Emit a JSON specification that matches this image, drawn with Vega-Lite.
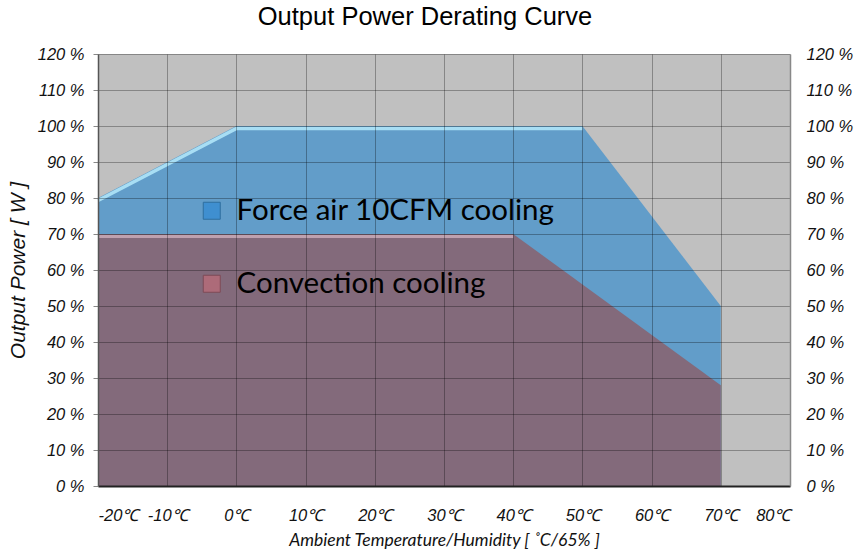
{
  "$schema": "https://vega.github.io/schema/vega-lite/v6.json",
  "width": 692,
  "height": 432,
  "autosize": "none",
  "padding": {"left": 98, "top": 54, "right": 67, "bottom": 68},
  "background": "white",
  "view": {"fill": "#c0c0c0", "stroke": null},
  "title": {
    "text": "Output Power Derating Curve",
    "font": "Liberation Sans",
    "fontSize": 25.5,
    "fontWeight": "normal",
    "color": "#000",
    "anchor": "middle",
    "dx": -19,
    "offset": 16
  },
  "config": {
    "view": {"fill": "#c0c0c0", "stroke": null},
    "axis": {
      "labelFont": "Liberation Sans",
      "labelFontStyle": "italic",
      "labelFontSize": 16.5,
      "labelColor": "#111",
      "titleFont": "Liberation Sans",
      "titleFontStyle": "italic",
      "titleFontWeight": "normal",
      "titleColor": "#111"
    }
  },
  "datasets": {
    "force": [
      {"series": "Force air 10CFM cooling", "t": -20, "p": 80},
      {"series": "Force air 10CFM cooling", "t": 0, "p": 100},
      {"series": "Force air 10CFM cooling", "t": 50, "p": 100},
      {"series": "Force air 10CFM cooling", "t": 70, "p": 50}
    ],
    "conv": [
      {"series": "Convection cooling", "t": -20, "p": 70},
      {"series": "Convection cooling", "t": 40, "p": 70},
      {"series": "Convection cooling", "t": 70, "p": 28}
    ],
    "forceEdge": [
      {"t": -20, "p": 80},
      {"t": 0, "p": 100},
      {"t": 50, "p": 100}
    ],
    "convEdge": [
      {"t": -20, "p": 70},
      {"t": 40, "p": 70}
    ]
  },
  "layer": [
    {
      "data": {"name": "force"},
      "mark": {"type": "area", "interpolate": "linear", "color": "#629dc9"},
      "encoding": {
        "x": {
          "field": "t", "type": "quantitative",
          "scale": {"domain": [-20, 80], "nice": false, "zero": false},
          "axis": {
            "values": [-20, -10, 0, 10, 20, 30, 40, 50, 60, 70, 80],
            "labelExpr": "datum.value + '℃'",
            "title": "Ambient Temperature/Humidity [ ˚C/65% ]",
            "titleFont": "Lato",
            "titleFontSize": 17.5,
            "titlePadding": 8,
            "labelPadding": 21,
            "ticks": false,
            "domainColor": "#222",
            "domainWidth": 2,
            "grid": true,
            "gridColor": "#000",
            "gridOpacity": 0.3,
            "zindex": 1
          }
        },
        "y": {
          "field": "p", "type": "quantitative", "stack": null,
          "scale": {"domain": [0, 120], "nice": false},
          "axis": {
            "values": [0, 10, 20, 30, 40, 50, 60, 70, 80, 90, 100, 110, 120],
            "labelExpr": "datum.value + ' %'",
            "title": "Output Power [ W ]",
            "titleFontSize": 21,
            "titleX": -70,
            "titleY": 216,
            "labelPadding": 9,
            "tickSize": 5,
            "tickColor": "#888",
            "domainColor": "#555",
            "domainWidth": 1.5,
            "grid": true,
            "gridColor": "#000",
            "gridOpacity": 0.3,
            "zindex": 1
          }
        }
      }
    },
    {
      "data": {"name": "forceEdge"},
      "mark": {"type": "line", "color": "#b0e6f8", "strokeWidth": 3.5, "yOffset": 2.5, "opacity": 0.9},
      "encoding": {
        "x": {"field": "t", "type": "quantitative"},
        "y": {"field": "p", "type": "quantitative", "axis": null}
      }
    },
    {
      "data": {"name": "conv"},
      "mark": {"type": "area", "interpolate": "linear", "color": "#836a7b"},
      "encoding": {
        "x": {"field": "t", "type": "quantitative"},
        "y": {
          "field": "p", "type": "quantitative", "stack": null,
          "axis": {
            "orient": "right",
            "values": [0, 10, 20, 30, 40, 50, 60, 70, 80, 90, 100, 110, 120],
            "labelExpr": "datum.value + ' %'",
            "title": null,
            "labelPadding": 16,
            "ticks": false,
            "domainColor": "#888",
            "domainWidth": 1.5,
            "grid": false,
            "zindex": 1
          }
        }
      }
    },
    {
      "data": {"name": "convEdge"},
      "mark": {"type": "line", "color": "#c9aab8", "strokeWidth": 3, "yOffset": 2.5, "opacity": 0.85},
      "encoding": {
        "x": {"field": "t", "type": "quantitative"},
        "y": {"field": "p", "type": "quantitative", "axis": null}
      }
    },
    {
      "data": {"values": [
        {"series": "Force air 10CFM cooling", "t": -20, "p": 80},
        {"series": "Convection cooling", "t": -20, "p": 70}
      ]},
      "mark": {"type": "square", "size": 0, "filled": true, "opacity": 1},
      "encoding": {
        "x": {"field": "t", "type": "quantitative"},
        "y": {"field": "p", "type": "quantitative", "axis": null},
        "color": {
          "field": "series", "type": "nominal",
          "scale": {
            "domain": ["Force air 10CFM cooling", "Convection cooling"],
            "range": ["#3f8fd0", "#ad6b79"]
          },
          "legend": {
            "title": null,
            "orient": "none",
            "legendX": 99,
            "legendY": 142,
            "symbolType": "square",
            "symbolSize": 289,
            "symbolOpacity": 1,
            "symbolStrokeWidth": 1,
            "labelFont": "Lato",
            "labelFontSize": 29.5,
            "labelColor": "#000",
            "labelOffset": 10,
            "labelLimit": 500,
            "rowPadding": 42,
            "encode": {
              "symbols": {
                "update": {
                  "size": {"value": 289},
                  "stroke": [
                    {"test": "datum.value === 'Force air 10CFM cooling'", "value": "#2f6f9f"},
                    {"value": "#7d4b57"}
                  ],
                  "strokeWidth": {"value": 1}
                }
              }
            }
          }
        }
      }
    }
  ],
  "resolve": {"axis": {"y": "independent"}}
}
